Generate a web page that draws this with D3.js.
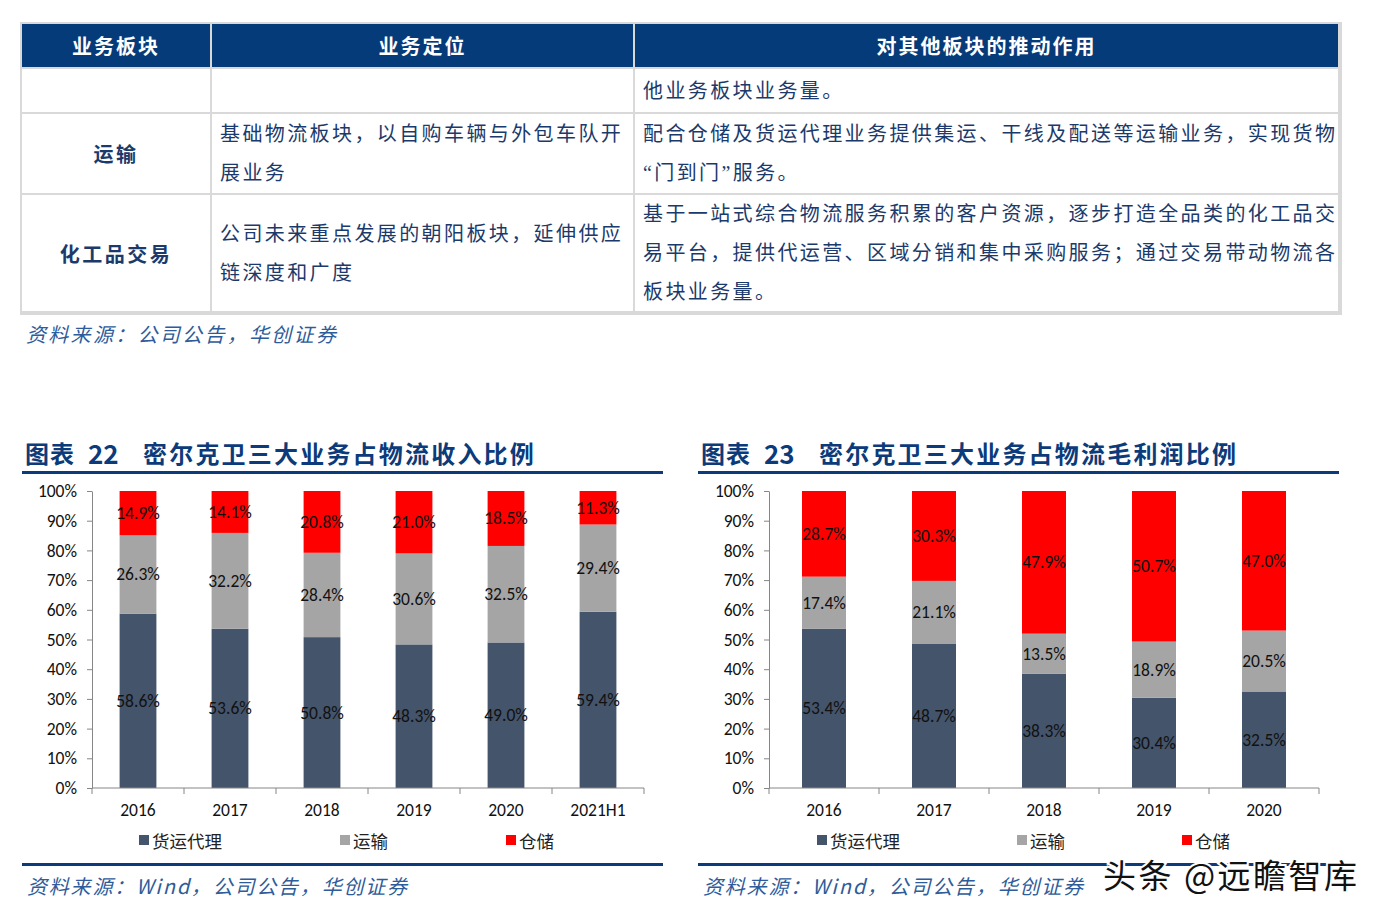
<!DOCTYPE html>
<html>
<head>
<meta charset="utf-8">
<script src="https://cdn.jsdelivr.net/npm/d3@7"></script>
<style>
  body { margin: 0; background: #fff; }
  text { font-family: "Noto Sans CJK SC", sans-serif; }
  text.body { font-family: "Liberation Serif", "Noto Sans CJK SC", serif; }
  .num { font-family: Carlito, Lato, "Liberation Sans", sans-serif; }
</style>
</head>
<body>
<div id="page"></div>
<script>
// Table content
const tableHead = ['业务板块', '业务定位', '对其他板块的推动作用']
const rowNames = ['', '运输', '化工品交易']
const rowRoles = [
  [],
  ['基础物流板块，以自购车辆与外包车队开', '展业务'],
  ['公司未来重点发展的朝阳板块，延伸供应', '链深度和广度']
]
const rowEffects = [
  ['他业务板块业务量。'],
  ['配合仓储及货运代理业务提供集运、干线及配送等运输业务，实现货物', '“门到门”服务。'],
  ['基于一站式综合物流服务积累的客户资源，逐步打造全品类的化工品交',
    '易平台，提供代运营、区域分销和集中采购服务；通过交易带动物流各',
    '板块业务量。']
]

// Chart 22: share of logistics revenue
const years1 = ['2016', '2017', '2018', '2019', '2020', '2021H1']
const freight1 = [58.6, 53.6, 50.8, 48.3, 49.0, 59.4]
const transport1 = [26.3, 32.2, 28.4, 30.6, 32.5, 29.4]
const storage1 = [14.9, 14.1, 20.8, 21.0, 18.5, 11.3]

// Chart 23: share of logistics gross profit
const years2 = ['2016', '2017', '2018', '2019', '2020']
const freight2 = [53.4, 48.7, 38.3, 30.4, 32.5]
const transport2 = [17.4, 21.1, 13.5, 18.9, 20.5]
const storage2 = [28.7, 30.3, 47.9, 50.7, 47.0]

const seriesNames = ['货运代理', '运输', '仓储']
const seriesKeys = ['freight', 'transport', 'storage']
const color = d3.scaleOrdinal().domain(seriesKeys).range(['#44546A', '#A5A5A5', '#FF0000'])

const navy = '#0B3B7A'
const textBlue = '#1B3A6B'
const srcBlue = '#2E5C9A'

const svg = d3.select('#page')
  .append('svg')
  .attr('width', 1381)
  .attr('height', 918)

// ---------- Table ----------
const colX = [22, 212, 635, 1340]
const rowY = [24, 69, 114, 195, 313]
const lineH = 39

const table = svg.append('g')
table.append('rect')
  .attr('x', 20).attr('y', 22)
  .attr('width', 1322).attr('height', 293)
  .attr('fill', '#D9D9D9')

for (let r = 0; r < 4; r++) {
  for (let c = 0; c < 3; c++) {
    table.append('rect')
      .attr('x', colX[c])
      .attr('y', rowY[r])
      .attr('width', colX[c + 1] - colX[c] - 2)
      .attr('height', rowY[r + 1] - rowY[r] - 2)
      .attr('fill', r === 0 ? '#063B7A' : '#fff')
  }
}

table.selectAll('text.head')
  .data(tableHead)
  .enter()
  .append('text')
  .attr('class', 'head')
  .attr('x', (d, i) => (colX[i] + colX[i + 1] - 2) / 2)
  .attr('y', (rowY[0] + rowY[1] - 2) / 2)
  .attr('text-anchor', 'middle')
  .attr('dominant-baseline', 'central')
  .attr('fill', '#fff')
  .attr('font-size', 20)
  .attr('font-weight', 'bold')
  .attr('letter-spacing', 2)
  .text(d => d)

function cellLines (lines, c, r) {
  const mid = (rowY[r + 1] + rowY[r] - 2) / 2
  const top = mid - (lines.length - 1) * lineH / 2
  lines.forEach((t, i) => {
    table.append('text')
      .attr('class', 'body')
      .attr('x', colX[c] + 8)
      .attr('y', top + i * lineH)
      .attr('dominant-baseline', 'central')
      .attr('fill', textBlue)
      .attr('font-size', 20)
      .attr('letter-spacing', 2.4)
      .text(t)
  })
}

rowNames.forEach((name, i) => {
  const r = i + 1
  table.append('text')
    .attr('x', (colX[0] + colX[1] - 2) / 2)
    .attr('y', (rowY[r] + rowY[r + 1] - 2) / 2)
    .attr('text-anchor', 'middle')
    .attr('dominant-baseline', 'central')
    .attr('fill', textBlue)
    .attr('font-size', 20)
    .attr('font-weight', 'bold')
    .attr('letter-spacing', 2.5)
    .text(name)
  cellLines(rowRoles[i], 1, r)
  cellLines(rowEffects[i], 2, r)
})

function source (x, y, t, ls) {
  svg.append('text')
    .attr('x', x).attr('y', y)
    .attr('dominant-baseline', 'central')
    .attr('fill', srcBlue)
    .attr('font-size', 20)
    .attr('font-style', 'italic')
    .attr('letter-spacing', ls)
    .text(t)
}

source(26, 333, '资料来源：公司公告，华创证券', 2.3)

// ---------- Charts ----------
function drawChart (o) {
  const g = svg.append('g')

  // title + rules
  const titleAttrs = sel => sel
    .attr('y', 452)
    .attr('dominant-baseline', 'central')
    .attr('fill', navy)
    .attr('font-size', 24)
    .attr('font-weight', 'bold')
  g.append('text').call(titleAttrs).attr('x', o.left).attr('letter-spacing', 1).text('图表')
  g.append('text').call(titleAttrs).attr('x', o.left + 63)
    .attr('font-family', '"Liberation Serif", serif').attr('font-size', 26).text(o.num)
  g.append('text').call(titleAttrs).attr('x', o.left + 118)
    .attr('letter-spacing', 2.2).text(o.title)

  g.append('rect').attr('x', o.left - 3).attr('y', 471)
    .attr('width', o.width).attr('height', 3).attr('fill', navy)
  g.append('rect').attr('x', o.left - 3).attr('y', 863)
    .attr('width', o.width).attr('height', 3).attr('fill', navy)

  const rows = o.years.map((yr, i) => ({
    year: yr, freight: o.freight[i], transport: o.transport[i], storage: o.storage[i]
  }))
  const stacked = d3.stack()
    .keys(seriesKeys)
    .offset(d3.stackOffsetExpand)(rows)

  const x = d3.scaleBand()
    .domain(o.years)
    .range([o.x0, o.x1])
    .paddingInner(0.6)
    .paddingOuter(0.3)
  const y = d3.scaleLinear().domain([0, 1]).range([788, 491])

  const layers = g.selectAll('g.layer')
    .data(stacked)
    .enter()
    .append('g')
    .attr('class', 'layer')
    .attr('fill', d => color(d.key))

  layers.selectAll('rect')
    .data(d => d)
    .enter()
    .append('rect')
    .attr('x', d => x(d.data.year))
    .attr('y', d => y(d[1]))
    .attr('width', x.bandwidth())
    .attr('height', d => y(d[0]) - y(d[1]))

  layers.selectAll('text')
    .data(d => d.map(v => ({ v, key: d.key })))
    .enter()
    .append('text')
    .attr('class', 'num')
    .attr('x', d => x(d.v.data.year) + x.bandwidth() / 2)
    .attr('y', d => y((d.v[0] + d.v[1]) / 2))
    .attr('text-anchor', 'middle')
    .attr('dominant-baseline', 'central')
    .attr('fill', '#111')
    .attr('font-size', 17.5)
    .text(d => d.v.data[d.key].toFixed(1) + '%')

  // y axis
  const yAxis = g.append('g')
    .attr('transform', `translate(${o.x0},0)`)
    .call(d3.axisLeft(y)
      .tickValues(d3.range(0, 1.01, 0.1))
      .tickFormat(d3.format('.0%'))
      .tickSize(5)
      .tickSizeOuter(0))
  yAxis.select('.domain').attr('stroke', '#868686')
  yAxis.selectAll('.tick line').attr('stroke', '#868686')
  yAxis.selectAll('.tick text')
    .attr('class', 'num')
    .attr('x', -15)
    .attr('font-size', 17.5)
    .attr('fill', '#111')

  // x axis with ticks between categories
  g.append('line')
    .attr('x1', o.x0).attr('x2', o.x1)
    .attr('y1', 788).attr('y2', 788)
    .attr('stroke', '#868686')
  const step = x.step()
  g.selectAll('line.xt')
    .data(d3.range(o.years.length + 1))
    .enter()
    .append('line')
    .attr('class', 'xt')
    .attr('x1', i => o.x0 + i * step)
    .attr('x2', i => o.x0 + i * step)
    .attr('y1', 788).attr('y2', 794)
    .attr('stroke', '#868686')
  g.selectAll('text.xl')
    .data(o.years)
    .enter()
    .append('text')
    .attr('class', 'num xl')
    .attr('x', d => x(d) + x.bandwidth() / 2)
    .attr('y', 810)
    .attr('text-anchor', 'middle')
    .attr('dominant-baseline', 'central')
    .attr('fill', '#111')
    .attr('font-size', 17.5)
    .text(d => d)

  // legend
  const lg = g.selectAll('g.lg')
    .data(seriesKeys)
    .enter()
    .append('g')
    .attr('transform', (d, i) => `translate(${o.legendX[i]}, 840)`)
  lg.append('rect')
    .attr('x', 0).attr('y', -5)
    .attr('width', 10).attr('height', 10)
    .attr('fill', d => color(d))
  lg.append('text')
    .attr('x', 13)
    .attr('dominant-baseline', 'central')
    .attr('fill', '#222')
    .attr('font-size', 17.5)
    .text((d, i) => seriesNames[i])

  source(o.left + 2, 885, '资料来源：Wind，公司公告，华创证券', 1.8)
}

drawChart({
  left: 25, width: 641, num: '22', title: '密尔克卫三大业务占物流收入比例',
  years: years1, freight: freight1, transport: transport1, storage: storage1,
  x0: 92, x1: 644, legendX: [139, 340, 506]
})

drawChart({
  left: 701, width: 641, num: '23', title: '密尔克卫三大业务占物流毛利润比例',
  years: years2, freight: freight2, transport: transport2, storage: storage2,
  x0: 769, x1: 1319, legendX: [817, 1017, 1182]
})

// watermark
svg.append('text')
  .attr('x', 1103).attr('y', 874)
  .attr('dominant-baseline', 'central')
  .attr('font-size', 33)
  .attr('letter-spacing', 2.5)
  .attr('fill', '#111')
  .attr('stroke', '#fff')
  .attr('stroke-width', 4)
  .attr('paint-order', 'stroke')
  .text('头条 @远瞻智库')
</script>
</body>
</html>
